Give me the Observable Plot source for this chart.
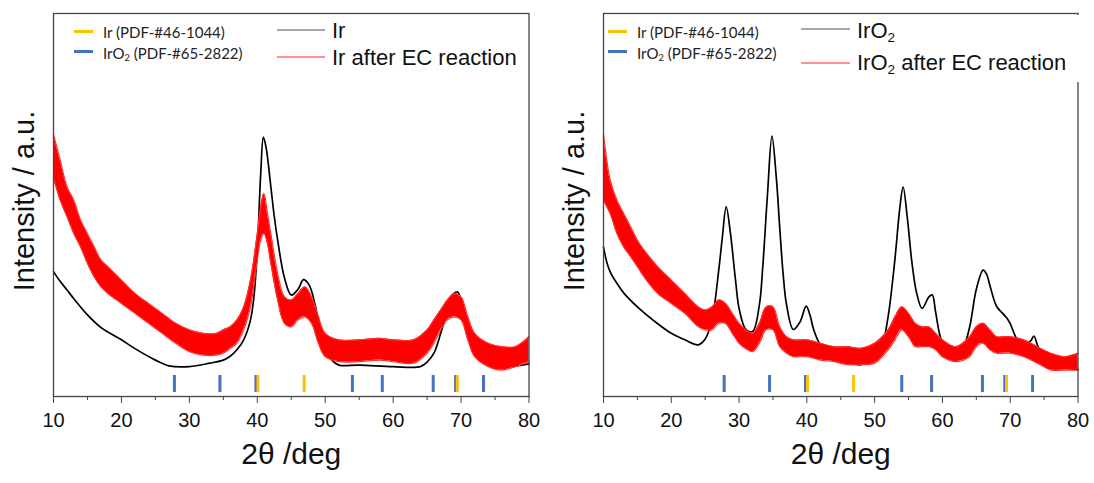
<!DOCTYPE html>
<html><head><meta charset="utf-8">
<script src="https://cdn.jsdelivr.net/npm/d3@7"></script>
<script src="https://cdn.jsdelivr.net/npm/@observablehq/plot@0.6"></script>
<style>
body{margin:0;background:#fff;}
#wrap{position:relative;width:1094px;height:483px;display:flex;}
.panel{position:relative;width:547px;height:483px;}
.panel > svg{display:block;}
.leg{position:absolute;left:0;top:0;width:547px;height:100px;pointer-events:none;}
.t{position:absolute;white-space:nowrap;line-height:1;transform:translateY(-50%);color:#111;}
.s{font-family:Lato,"Open Sans",sans-serif;font-size:15px;color:#222;}
.b{font-family:"Liberation Sans",Arial,sans-serif;font-size:22px;}
sub{font-size:0.62em;vertical-align:-0.3em;line-height:0;}
.box{position:absolute;background:#fff;}
</style></head><body><div id="wrap"></div>
<script>
// x-axis ticks
const majorTicks = [10, 20, 30, 40, 50, 60, 70, 80];
const minorTicks = [15, 25, 35, 45, 55, 65, 75];

// reference patterns (2θ, deg)
const irRef = [40.1, 46.9, 69.45];
const iro2Ref = [27.8, 34.5, 39.8, 54.0, 58.4, 65.9, 69.2, 73.3];

// Ir sample (black)
const irBlackX = [10,11,12,13,15,17,20,22,25,27,30,33,35,36,37,38,39,39.5,40,40.5,40.9,41.3,42,42.5,43,44,45,46,46.8,47.5,48,49,50,51,52,55,60,64,65,66,67,68,69,69.5,70,71,72,73,75,78,80];
const irBlackY = [32.6,30,27.8,25.5,21.3,18,14.8,12.5,9.5,8,7.8,8.7,9.5,10.5,12.2,14.8,20,26,38,58,67.7,65,54.7,47,40.8,31,26.5,28,30.5,29.5,27.5,20,13,9.5,8.2,8.2,7.8,7.8,9,11.3,16.5,22.6,27,27.3,25,18,12,9.5,8,8,8.5];

// Ir after EC reaction (red, noisy band: low/high envelope)
const irRedX = [10,11,12,13,14,15,16,17,18,20,22,24,26,28,30,32,34,35,36,37,38,39,40,40.5,41,41.5,42,43,44,45,46,47,48,49,50,52,55,58,60,63,65,66,67,68,69,70,71,72,74,76,78,80];
const irRedHi = [68.5,61.6,54.7,51.2,46,42.5,39,35.6,33.9,30.4,26.9,24.3,21.7,19.1,17.4,16.5,16.5,17.4,18.2,20,23.4,30.4,42.5,49.5,53,47.7,42.5,32.1,26,25.2,26.9,28.6,26,20.8,16.5,14.8,14.8,15.2,14.8,14.8,17.4,20,22.6,25.2,26.9,26,20.8,16.5,13.9,13,13,15.6];
const irRedLo = [57,51.2,46.9,42.5,39,34.7,31.2,28.6,26.9,24.3,21.7,19.1,16.5,13.9,11.7,10.8,10.8,11.3,12.5,13.9,17.4,23.4,35.6,40.8,42.5,39.9,34.7,25.2,19.1,18.2,20,20.8,19.1,13.9,10.4,9.1,9.1,9.5,9.1,8.7,11.3,13.9,17.4,20,20.8,20,14.8,10.4,7.8,6.9,7.8,9.1];

// IrO2 sample (black)
const iro2BlackX = [10,10.5,11,12,13,15,18,20,22,24,25,26,27,27.5,28.1,28.7,29.5,30,31,32,33,33.5,34.2,34.85,35.5,36,36.5,37,38,39,39.9,40.5,41,42,44,46,48,50,51,52,53,53.7,54.2,54.8,55.5,56.2,57,58,58.5,59,59.8,61,62,63,64,65,66,66.5,67,68,69,69.5,70,71,72,73,73.5,74,75,76,78,80];
const iro2BlackY = [39,35,32.5,29.5,27,23.4,19,16.5,14.8,13.5,15,20,33,41,49.5,43,30,23,17.5,17,24,34,53,68,57,44,32,24,17.5,19.5,23.6,21,17.5,13.5,10.5,9,8.3,10,12.5,21,36,49,54.7,47,35,27,23,26,26.5,22,15,11.5,11,12.5,18,28,33,32,29,23.5,21.5,20.5,19,15,13.5,14.5,15.8,13.5,9.5,8,7.5,7];

// IrO2 after EC reaction (red band)
const iro2RedX = [10,10.5,11,12,13,14,15,16,18,20,22,24,25,26,27,28,29,30,31,32,33,34,35,36,37,38,40,42,44,46,48,50,52,53,54,55,56,57,58,59,60,62,64,65,66,67,68,69,70,72,74,76,78,80];
const iro2RedHi = [68.5,61.6,56.4,51.2,47.7,44.3,40.8,38.2,33.9,30.4,26.9,23.4,22.6,23.4,25.2,24.3,21.7,19.1,17.4,16.5,19.1,23.4,23.4,18.2,15.6,14.8,14.8,13.9,13,13,12.6,13.9,17.4,20.8,23.4,21.7,19.1,18.2,18.2,16.5,14.8,13,15.6,18.2,19.1,17.4,15.6,15.6,15.6,14.8,13,11.3,10.4,11.3];
const iro2RedLo = [51.2,49.5,47.7,42.5,39,36.5,33.9,31.2,26.9,24.3,21.7,18.2,17.4,17.4,19.1,19.1,16.5,13.9,12.5,11.7,13.9,17.4,17.4,13,11.3,10.4,10.4,9.5,9.1,8.3,8.3,8.7,12.2,14.8,17.4,15.6,13,13,13,12.2,10.4,9.1,10.4,13,13.9,12.2,11.3,11.3,11.3,10.4,8.7,6.9,6.9,6.9];

const xLabel = "2θ /deg";
const yLabel = "Intensity / a.u.";

function panel(cfg) {
  const black = cfg.bx.map((x, i) => ({x, y: cfg.by[i]}));
  const red = cfg.rx.map((x, i) => ({x, lo: cfg.rlo[i], hi: cfg.rhi[i]}));
  return Plot.plot({
    width: 547, height: 483,
    marginLeft: cfg.ml, marginRight: cfg.mr, marginTop: 13, marginBottom: 87,
    style: {fontFamily: '"Liberation Sans", Arial, sans-serif', background: "#fff", color: "#222"},
    x: {domain: [10, 80]},
    y: {domain: [0, 100], axis: null},
    marks: [
      Plot.line(black, {x: "x", y: "y", stroke: "#000", strokeWidth: 1.7, curve: "catmull-rom"}),
      Plot.areaY(red, {x: "x", y1: "lo", y2: "hi", fill: "#ff0000", curve: "catmull-rom"}),
      Plot.line(red, {x: "x", y: "hi", stroke: "#ff3030", strokeWidth: 1.2, curve: "catmull-rom"}),
      Plot.line(red, {x: "x", y: "lo", stroke: "#ff3030", strokeWidth: 1.2, curve: "catmull-rom"}),
      Plot.ruleX(iro2Ref, {x: d => d, stroke: "#4472C4", strokeWidth: 3, insetTop: 362, insetBottom: 4}),
      Plot.ruleX(irRef, {x: d => d, stroke: "#FFC000", strokeWidth: 3, insetTop: 362, insetBottom: 4}),
      Plot.frame({stroke: "#444", strokeWidth: 1.3}),
      Plot.axisX(majorTicks, {tickSize: 7, tickPadding: 9, fontSize: 20, label: null, stroke: "#444", color: "#111"}),
      Plot.axisX(minorTicks, {tickSize: 4, text: null, label: null, stroke: "#444"}),
      Plot.text([yLabel], {frameAnchor: "left", textAnchor: "middle", dx: -29, dy: -4, rotate: -90, fontSize: 29, fill: "#111"}),
      Plot.text([xLabel], {frameAnchor: "bottom", textAnchor: "middle", dy: 67, fontSize: 30, fill: "#111"})
    ]
  });
}

const wrap = document.getElementById("wrap");

function addPanel(cfg, lines, legendHTML) {
  const div = document.createElement("div");
  div.className = "panel";
  div.appendChild(panel(cfg));
  const leg = document.createElement("div");
  leg.innerHTML = legendHTML;
  div.appendChild(leg);
  const ns = "http://www.w3.org/2000/svg";
  const svg = document.createElementNS(ns, "svg");
  svg.setAttribute("class", "leg");
  svg.setAttribute("width", 547);
  svg.setAttribute("height", 100);
  for (const l of lines) {
    const e = document.createElementNS(ns, "line");
    e.setAttribute("x1", l[0]); e.setAttribute("x2", l[1]);
    e.setAttribute("y1", l[2]); e.setAttribute("y2", l[2]);
    e.setAttribute("stroke", l[3]); e.setAttribute("stroke-width", l[4]);
    svg.appendChild(e);
  }
  div.appendChild(svg);
  wrap.appendChild(div);
}

addPanel({ml: 53, mr: 18.5, bx: irBlackX, by: irBlackY, rx: irRedX, rlo: irRedLo, rhi: irRedHi},
  [[74, 93, 31.5, "#FFC000", 3], [74, 93, 51.5, "#4472C4", 3],
   [277, 325, 30, "#8a8a8a", 1.5], [277, 325, 57, "#ff6b6b", 1.5]],
  `<div class="t s" style="left:103px;top:32px">Ir (PDF-#46-1044)</div>
   <div class="t s" style="left:103px;top:53px">IrO<sub>2</sub> (PDF-#65-2822)</div>
   <div class="t b" style="left:332px;top:31px">Ir</div>
   <div class="t b" style="left:332px;top:58px">Ir after EC reaction</div>`);

addPanel({ml: 56, mr: 16.5, bx: iro2BlackX, by: iro2BlackY, rx: iro2RedX, rlo: iro2RedLo, rhi: iro2RedHi},
  [[61, 80, 31.5, "#FFC000", 3], [61, 80, 51.5, "#4472C4", 3],
   [254, 303, 29, "#8a8a8a", 1.5], [254, 303, 63, "#ff6b6b", 1.5]],
  `<div class="box" style="left:250px;top:15px;width:285px;height:67px"></div>
   <div class="t s" style="left:90px;top:32px">Ir (PDF-#46-1044)</div>
   <div class="t s" style="left:90px;top:53px">IrO<sub>2</sub> (PDF-#65-2822)</div>
   <div class="t b" style="left:310px;top:31px">IrO<sub>2</sub></div>
   <div class="t b" style="left:310px;top:63px">IrO<sub>2</sub> after EC reaction</div>`);
</script>
</body></html>
